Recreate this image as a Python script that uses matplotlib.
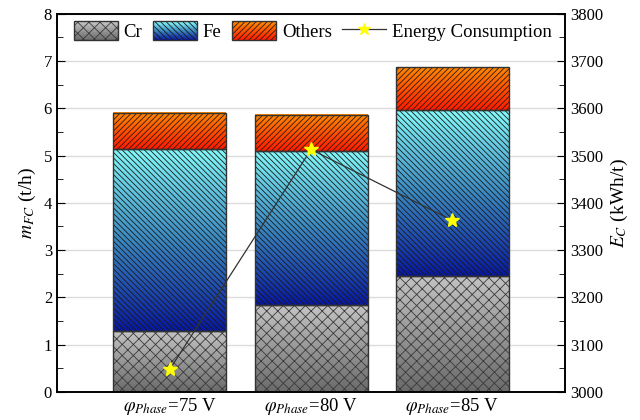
import matplotlib
matplotlib.use("Agg")
import matplotlib.pyplot as plt
import numpy as np
from matplotlib.colors import LinearSegmentedColormap
from matplotlib.patches import Rectangle
from matplotlib.lines import Line2D
from matplotlib.legend_handler import HandlerBase

plt.rcParams['font.family'] = ['Liberation Serif', 'DejaVu Serif']
plt.rcParams['mathtext.fontset'] = 'stix'
plt.rcParams['hatch.linewidth'] = 0.6

# data
labels = [r'$\varphi_{Phase}$=75 V', r'$\varphi_{Phase}$=80 V', r'$\varphi_{Phase}$=85 V']
cr = [1.28, 1.83, 2.46]
fe = [3.86, 3.26, 3.51]          # Fe part (stacked on Cr)
others = [0.77, 0.77, 0.90]      # Others part (stacked on Fe)
energy = [3048, 3513, 3363]

# gradient colormaps (bottom -> top) and hatch styles
cmap_cr = LinearSegmentedColormap.from_list('cr', ['#6a6a6a', '#c4c4c4'])
cmap_fe = LinearSegmentedColormap.from_list('fe', ['#0818a0', '#3a88c0', '#84fafa'])
cmap_ot = LinearSegmentedColormap.from_list('ot', ['#ff1a00', '#ff8a00'])
styles = [(cmap_cr, 'xxx', '#3a3a3a'), (cmap_fe, '\\' * 6, '#1a1a1a'), (cmap_ot, '/' * 6, '#2a1a10')]

fig = plt.figure(figsize=(6.4, 4.2), dpi=100)
ax = fig.add_axes([0.089, 0.067, 0.794, 0.9])

x = np.arange(len(labels))
width = 0.8
grad = np.linspace(0, 1, 256).reshape(-1, 1)

bottoms = np.zeros(len(labels))
for vals, (cmap, hatch, hcol) in zip([cr, fe, others], styles):
    for i in range(len(labels)):
        x0, x1 = x[i] - width / 2, x[i] + width / 2
        y0, y1 = bottoms[i], bottoms[i] + vals[i]
        ax.imshow(grad, extent=[x0, x1, y0, y1], origin='lower', aspect='auto',
                  cmap=cmap, zorder=2, interpolation='bilinear')
    ax.bar(x, vals, width, bottom=bottoms, facecolor='none', edgecolor=hcol,
           hatch=hatch, linewidth=0, zorder=3)
    ax.bar(x, vals, width, bottom=bottoms, facecolor='none', edgecolor='#333333',
           linewidth=1.0, zorder=4)
    bottoms += np.array(vals)

ax.set_xlim(-0.8, 2.8)
ax.set_ylim(0, 8)
ax.set_xticks(x)
ax.set_xticklabels(labels, fontsize=13.5)
ax.set_yticks(np.arange(0, 9, 1))
ax.set_yticks(np.arange(0.5, 8, 1), minor=True)
ax.tick_params(axis='y', which='both', direction='in', labelsize=12)
ax.tick_params(axis='y', which='major', length=6)
ax.tick_params(axis='y', which='minor', length=4)
ax.tick_params(axis='x', length=0, pad=3)
ax.set_ylabel(r'$m_{FC}$ (t/h)', fontsize=14, labelpad=4)
ax.yaxis.grid(True, color='#dcdcdc', linewidth=1.0)
ax.set_axisbelow(True)

ax2 = ax.twinx()
ax2.plot(x, energy, color='#333333', linewidth=0.9, marker='*', markersize=10,
         markerfacecolor='#ffff00', markeredgecolor='#ffff00', zorder=5)
ax2.set_ylim(3000, 3800)
ax2.set_yticks(np.arange(3000, 3801, 100))
ax2.set_yticks(np.arange(3050, 3800, 100), minor=True)
ax2.tick_params(axis='y', which='both', direction='in', labelsize=12)
ax2.tick_params(axis='y', which='major', length=6)
ax2.tick_params(axis='y', which='minor', length=4)
ax2.set_ylabel(r'$E_C$ (kWh/t)', fontsize=14, labelpad=4)
for a in (ax, ax2):
    for s in a.spines.values():
        s.set_linewidth(1.2)


class GradHandler(HandlerBase):
    def __init__(self, cmap, hatch, hcol):
        super().__init__()
        self.cmap, self.hatch, self.hcol = cmap, hatch, hcol

    def create_artists(self, legend, orig_handle, xdescent, ydescent, width, height, fontsize, trans):
        arts = []
        n = 24
        for k in range(n):
            r = Rectangle((-xdescent, -ydescent + k * height / n), width, height / n + 0.3,
                          facecolor=self.cmap(k / (n - 1)), edgecolor='none', transform=trans)
            arts.append(r)
        arts.append(Rectangle((-xdescent, -ydescent), width, height, facecolor='none',
                              edgecolor=self.hcol, hatch=self.hatch, linewidth=0, transform=trans))
        arts.append(Rectangle((-xdescent, -ydescent), width, height, fill=False,
                              edgecolor='#333333', linewidth=1.0, transform=trans))
        return arts


h_cr, h_fe, h_ot = Rectangle((0, 0), 1, 1), Rectangle((0, 0), 1, 1), Rectangle((0, 0), 1, 1)
h_en = Line2D([], [], color='#333333', linewidth=0.9, marker='*', markersize=9,
              markerfacecolor='#ffff00', markeredgecolor='#ffff00')
ax2.legend([h_cr, h_fe, h_ot, h_en], ['Cr', 'Fe', 'Others', 'Energy Consumption'],
           handler_map={h_cr: GradHandler(*styles[0]), h_fe: GradHandler(*styles[1]),
                        h_ot: GradHandler(*styles[2])},
           loc='upper left', bbox_to_anchor=(0.018, 1.0), ncol=4, frameon=False,
           fontsize=13.5, handlelength=2.35, handleheight=1.17, handletextpad=0.32,
           columnspacing=0.55, borderaxespad=0.0)

fig.savefig("out.png", dpi=100)
